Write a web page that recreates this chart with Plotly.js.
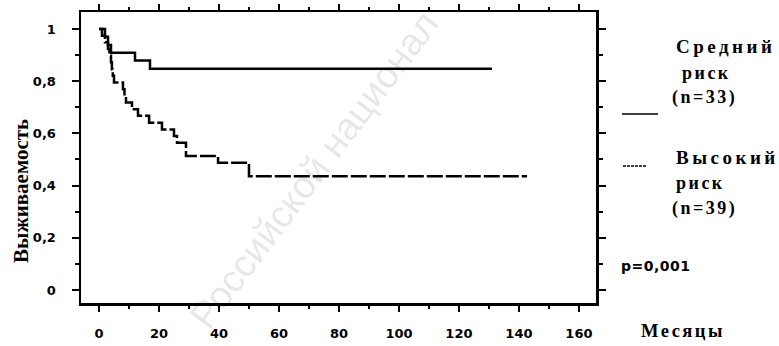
<!DOCTYPE html>
<html>
<head>
<meta charset="utf-8">
<script src="https://cdn.plot.ly/plotly-3.0.1.min.js"></script>
<style>html,body{margin:0;padding:0;background:#fff;}#chart{width:779px;height:346px;}</style>
</head>
<body>
<div id="chart"></div>
<script>
// Kaplan–Meier survival, medium risk (n=33)
const timesMedium = [0, 2, 3, 4, 12, 17, 131];
const survMedium  = [1, 0.970, 0.939, 0.909, 0.879, 0.848, 0.848];
// High risk (n=39)
const timesHigh = [0, 1, 2, 3, 3.5, 4, 4.3, 4.6, 5, 8, 8.5, 9, 11, 13, 16.7, 21, 25, 26, 29, 39.7, 50, 142.7];
const survHigh  = [1, 0.974, 0.949, 0.923, 0.897, 0.872, 0.846, 0.821, 0.795, 0.769, 0.744, 0.718, 0.692, 0.667, 0.641, 0.615, 0.590, 0.564, 0.513, 0.487, 0.436, 0.436];
const xTicks = [0, 20, 40, 60, 80, 100, 120, 140, 160];
const yTicks = [0, 0.2, 0.4, 0.6, 0.8, 1];
const legendMedium = ['Средний', 'риск', '(n=33)'];
const legendHigh = ['Высокий', 'риск', '(n=39)'];
const pText = 'p=0,001';
const xTitle = 'Месяцы';
const yTitle = 'Выживаемость';
const watermark = 'Российской национал';

const traces = [
  {x: timesMedium, y: survMedium, mode: 'lines', line: {shape: 'hv', color: '#000', width: 2.5}, showlegend: false, hoverinfo: 'none'},
  {x: timesHigh, y: survHigh, mode: 'lines', line: {shape: 'hv', color: '#000', width: 2.5, dash: '16px,3px'}, showlegend: false, hoverinfo: 'none'}
];

const serif = 'Liberation Serif';
const sp = (s, n) => '<span style="letter-spacing:' + n + 'px">' + s + '</span>';
const ann = [];
function addText(t, x, y, size, fam, anchor) {
  ann.push({xref: 'paper', yref: 'paper', x: x, y: y, text: '<b>' + t + '</b>', showarrow: false,
    xanchor: anchor || 'left', yanchor: 'middle', font: {family: fam || serif, size: size || 17, color: '#000'}});
}
// paper coords: plot x 81..596 px, y 12..303 px
const px = v => (v - 81) / (596 - 81);
const py = v => (303 - v) / (303 - 12);
addText(sp(legendMedium[0], 3.5), px(674), py(46), 19);
addText(sp(legendMedium[1], 2.5), px(680), py(73), 18);
addText(sp(legendMedium[2], 2.5), px(670), py(98), 18);
addText(sp(legendHigh[0], 3.5), px(674), py(157), 19);
addText(sp(legendHigh[1], 2.5), px(674), py(183), 18);
addText(sp(legendHigh[2], 2.5), px(670), py(208), 18);
addText(sp(pText, 0.5), px(619), py(266), 14, 'DejaVu Sans');
addText(sp(xTitle, 2.5), px(639), py(331), 18.5);
ann.push({xref: 'paper', yref: 'paper', x: px(21), y: py(191), text: '<b>' + yTitle + '</b>', showarrow: false,
  textangle: -90, xanchor: 'center', yanchor: 'middle', font: {family: serif, size: 21, color: '#000'}});
ann.push({xref: 'paper', yref: 'paper', x: px(314), y: py(170), text: watermark, showarrow: false,
  textangle: -53, xanchor: 'center', yanchor: 'middle', font: {family: 'Liberation Sans', size: 38, color: 'rgba(0,0,0,0.10)'}});

const shapes = [
  {type: 'line', xref: 'paper', yref: 'paper', x0: px(622), x1: px(658), y0: py(114), y1: py(114), line: {color: '#000', width: 1.5}},
  {type: 'line', xref: 'paper', yref: 'paper', x0: px(623), x1: px(647), y0: py(166), y1: py(166), line: {color: '#000', width: 1.5, dash: '3px,1px'}}
];

const tickFont = {family: 'DejaVu Sans', size: 13, color: '#000', weight: 'bold'};
const layout = {
  width: 779, height: 346,
  margin: {l: 81, r: 183, t: 12, b: 43},
  paper_bgcolor: '#fff', plot_bgcolor: '#fff',
  separators: ',.',
  showlegend: false,
  xaxis: {range: [-6, 165.7], tickvals: xTicks, ticks: 'outside', ticklen: 6, tickwidth: 2, tickcolor: '#000',
    showline: true, linewidth: 2.5, linecolor: '#000', mirror: 'allticks', showgrid: false, zeroline: false,
    minor: {dtick: 10, tick0: 0, ticks: 'outside', ticklen: 3, tickwidth: 2, tickcolor: '#000', showgrid: false},
    tickfont: tickFont, ticklabelstandoff: 11},
  yaxis: {range: [-0.05, 1.065], tickvals: yTicks, ticks: 'outside', ticklen: 7, tickwidth: 2, tickcolor: '#000',
    showline: true, linewidth: 2.5, linecolor: '#000', mirror: 'allticks', showgrid: false, zeroline: false,
    minor: {dtick: 0.1, tick0: 0, ticks: 'outside', ticklen: 4, tickwidth: 2, tickcolor: '#000', showgrid: false},
    tickfont: tickFont, ticklabelstandoff: 13},
  annotations: ann,
  shapes: shapes
};
Plotly.newPlot('chart', traces, layout, {staticPlot: true});
</script>
</body>
</html>
